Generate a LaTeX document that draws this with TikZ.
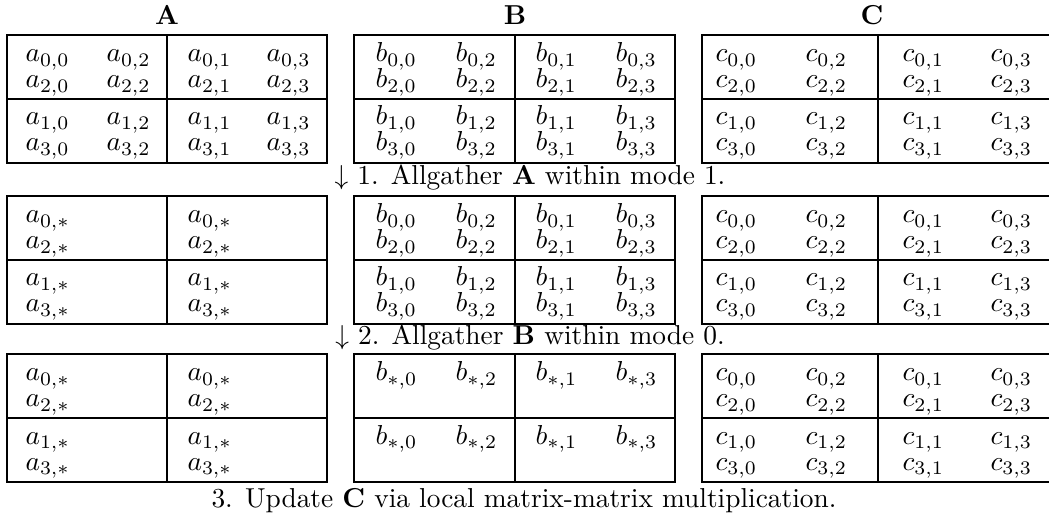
\documentclass[tikz,border=0pt]{standalone}
\usepackage{tikz}
\usetikzlibrary{positioning}
\usepackage{amsmath, amssymb}

\begin{document}
\begin{tikzpicture}[x=0.365pt, y=-0.365pt,
  entry/.style={anchor=base west, inner sep=0pt},
  ttl/.style={anchor=base, inner sep=0pt, font=\bfseries},
  stepnote/.style={anchor=base, inner sep=0pt}
]
  \useasboundingbox (0,0) rectangle (1049,514);
  % block frames
  \foreach \t in {35,196,354}
    \foreach \l/\m/\r in {7/167/327, 354/515/675, 702/878/1050} {
      \draw (\l,\t) rectangle (\r,\t+128);
      \draw (\m,\t) -- (\m,\t+128);
      \draw (\l,\t+64) -- (\r,\t+64);
    }
  % titles
  \node[ttl] (ttlA) at (167,25) {A};
  \node[ttl] (ttlB) at (515,25) {B};
  \node[ttl] (ttlC) at (872,25) {C};
  % A, full
  \foreach \i/\y in {0/27,2/53,1/90,3/116}
    \foreach \j/\x in {0/25,2/106,1/187,3/266}
      \node[entry] (a1-\i\j) at (\x,35+\y) {$a_{\i,\j}$};
  % A, gathered
  \foreach \t/\k in {196/2,354/3}
    \foreach \i/\y in {0/27,2/53,1/90,3/116}
      \foreach \x/\h in {25/l,187/r}
        \node[entry] (a\k-\i\h) at (\x,\t+\y) {$a_{\i,*}$};
  % B, full
  \foreach \t/\k in {35/1,196/2}
    \foreach \i/\y in {0/27,2/53,1/90,3/116}
      \foreach \j/\x in {0/375,2/455,1/535,3/615}
        \node[entry] (b\k-\i\j) at (\x,\t+\y) {$b_{\i,\j}$};
  % B, gathered
  \foreach \y/\h in {27/t,90/b}
    \foreach \j/\x in {0/375,2/455,1/535,3/615}
      \node[entry] (b3-\h\j) at (\x,354+\y) {$b_{*,\j}$};
  % C
  \foreach \t/\k in {35/1,196/2,354/3}
    \foreach \i/\y in {0/27,2/53,1/90,3/116}
      \foreach \j/\x in {0/715,2/805,1/902,3/990}
        \node[entry] (c\k-\i\j) at (\x,\t+\y) {$c_{\i,\j}$};
  % steps
  \node[stepnote] (note1) at (530,185) {$\downarrow$ 1. Allgather \textbf{A} within mode 1.};
  \node[stepnote] (note2) at (530,345) {$\downarrow$ 2. Allgather \textbf{B} within mode 0.};
  \node[stepnote] (note3) at (524,507) {3. Update \textbf{C} via local matrix-matrix multiplication.};
\end{tikzpicture}
\end{document}
